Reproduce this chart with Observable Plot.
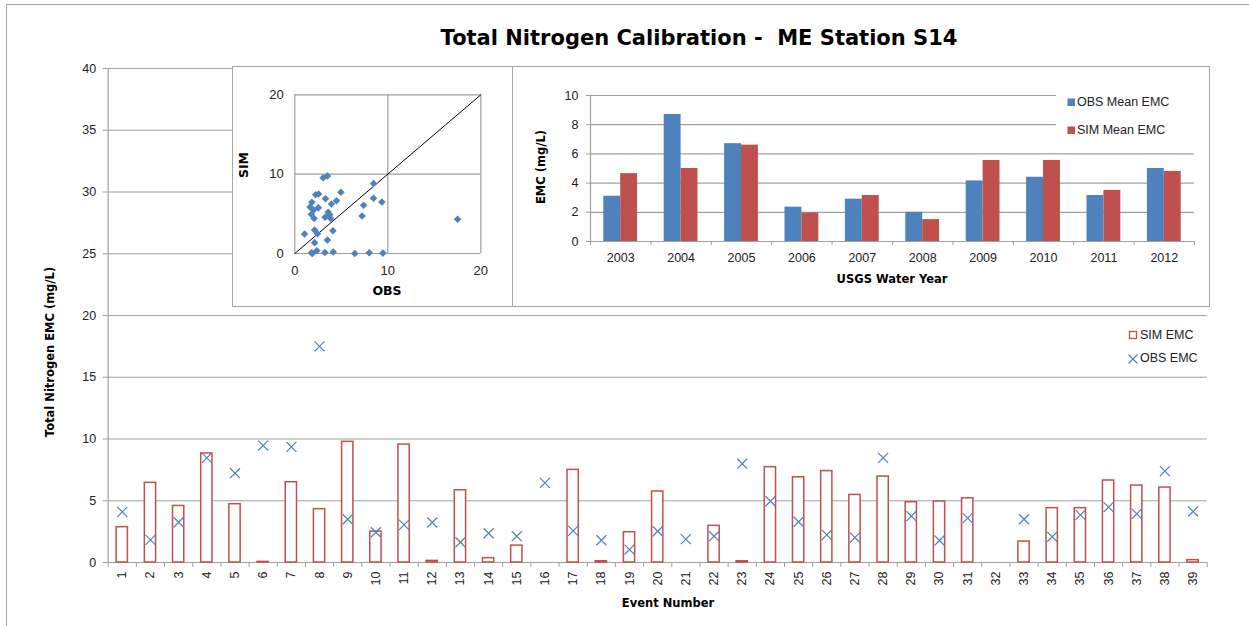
<!DOCTYPE html>
<html><head><meta charset="utf-8">
<script src="https://cdn.jsdelivr.net/npm/d3@7"></script>
<script src="https://cdn.jsdelivr.net/npm/@observablehq/plot@0.6"></script>
<style>
body{margin:0;background:#fff;font-family:"Liberation Sans",Arial,sans-serif;}
#root{position:relative;width:1249px;height:626px;overflow:hidden;background:#fff;}
.abs{position:absolute;}
.frame{position:absolute;left:6px;top:4px;width:1300px;height:700px;border:1px solid #a6a6a6;}
.title{position:absolute;left:0;width:1398px;top:26px;text-align:center;font-family:"DejaVu Sans",sans-serif;font-weight:bold;font-size:21px;color:#000;white-space:pre;}
.blab{position:absolute;font-family:"DejaVu Sans",sans-serif;font-weight:bold;font-size:11.5px;color:#000;white-space:nowrap;transform:translate(-50%,-50%);}
.rot{transform:translate(-50%,-50%) rotate(-90deg);}
.inset{position:absolute;background:#fff;border:1px solid #a6a6a6;}
.leg{position:absolute;font-size:12.5px;color:#222;white-space:nowrap;}
.sw{position:absolute;}
</style>
</head><body>
<div id="root"></div>
<script>
// ---- Data ----
const events = [1,2,3,4,5,6,7,8,9,10,11,12,13,14,15,16,17,18,19,20,21,22,23,24,25,26,27,28,29,30,31,32,33,34,35,36,37,38,39];
const simEMC = [2.86,6.45,4.58,8.83,4.72,0.05,6.5,4.32,9.77,2.5,9.55,0.13,5.85,0.35,1.37,0,7.5,0.1,2.45,5.75,0,2.97,0.1,7.72,6.9,7.4,5.47,6.96,4.88,4.94,5.2,null,1.7,4.4,4.4,6.64,6.23,6.07,0.19];
const obsEMC = [4.1,1.83,3.26,8.47,7.23,9.47,9.36,17.5,3.5,2.45,3.05,3.24,1.64,2.37,2.13,6.45,2.56,1.8,1.05,2.53,1.89,2.13,8.0,4.96,3.3,2.24,2.02,8.47,3.75,1.78,3.59,null,3.5,2.08,3.86,4.48,3.94,7.4,4.13];
const mainYTicks = [0,5,10,15,20,25,30,35,40];

const years = [2003,2004,2005,2006,2007,2008,2009,2010,2011,2012];
const obsMean = [3.1,8.7,6.7,2.35,2.9,2.0,4.15,4.4,3.15,5.0];
const simMean = [4.65,5.0,6.6,1.95,3.15,1.5,5.55,5.55,3.5,4.8];
const meanYTicks = [0,2,4,6,8,10];

const scatterTicks = [0,10,20];
const oneToOne = [0,20];

const BLUE = "#4F81BD", RED = "#C0504D", GRID = "#a0a0a0", TXT = "#222";

const root = document.getElementById("root");
function add(html){ root.insertAdjacentHTML("beforeend", html); }

// ---- Main chart ----
const rows = events.map((e,i)=>({event:e, sim:simEMC[i], obs:obsEMC[i]}));
const boundaries = events.map(e=>e-0.5).concat([events[events.length-1]+0.5]);
const halfW = 0.2;

const main = Plot.plot({
  width:1249, height:626,
  marginLeft:107.7, marginRight:42.3, marginTop:68, marginBottom:64,
  x:{domain:[0.5,39.5]}, y:{domain:[0,40]},
  style:{fontFamily:"'Liberation Sans',Arial,sans-serif", fontSize:"12.5px", color:TXT, background:"transparent"},
  marks:[
    Plot.gridY(mainYTicks.filter(t=>t>0), {stroke:GRID, strokeOpacity:1, strokeWidth:1.2}),
    Plot.ruleX([0.5], {stroke:GRID, strokeWidth:1.2}),
    Plot.ruleY([0], {stroke:GRID, strokeWidth:1.2}),
    Plot.axisY({ticks:mainYTicks, tickSize:5, tickPadding:7, stroke:GRID, fill:TXT, label:null}),
    Plot.axisX({ticks:boundaries, tickSize:5, tickFormat:()=>"", stroke:GRID, label:null}),
    Plot.axisX({ticks:events, tickSize:0, tickPadding:9, tickRotate:-90, fill:TXT, label:null}),
    Plot.rectY(rows.filter(d=>d.sim>0), {x1:d=>d.event-halfW, x2:d=>d.event+halfW, y1:0, y2:"sim", fill:"white", stroke:RED, strokeWidth:1.5}),
    Plot.dot(rows.filter(d=>d.obs!=null), {x:"event", y:"obs", symbol:"times", r:4.6, stroke:BLUE, strokeWidth:1.2})
  ]
});
main.style.position="absolute"; main.style.left="0"; main.style.top="0";
root.appendChild(main);

add('<div class="frame"></div>');
add('<div class="title">Total Nitrogen Calibration -  ME Station S14</div>');
add('<div class="blab rot" style="left:50px;top:352px">Total Nitrogen EMC (mg/L)</div>');
add('<div class="blab" style="left:668px;top:603px">Event Number</div>');
// main legend
add('<svg class="sw" style="left:1128px;top:330px" width="10" height="10"><rect x="1.5" y="1.5" width="7" height="7" fill="white" stroke="'+RED+'" stroke-width="1.3"/></svg>');
add('<div class="leg" style="left:1140px;top:328px">SIM EMC</div>');
add('<svg class="sw" style="left:1127px;top:353px" width="12" height="12"><path d="M1.5,1.5L10.5,10.5M10.5,1.5L1.5,10.5" stroke="'+BLUE+'" stroke-width="1.2"/></svg>');
add('<div class="leg" style="left:1140px;top:351px">OBS EMC</div>');

// ---- Scatter inset ----
add('<div class="inset" id="scat" style="left:232px;top:66px;width:279px;height:239px"></div>');
const pairs = rows.filter(d=>d.obs!=null && d.sim!=null);
const scat = Plot.plot({
  width:279, height:239,
  marginLeft:61.3, marginRight:31.7, marginTop:27.3, marginBottom:53,
  x:{domain:[0,20]}, y:{domain:[0,20]},
  style:{fontFamily:"'Liberation Sans',Arial,sans-serif", fontSize:"13px", color:TXT, background:"transparent"},
  marks:[
    Plot.gridX(scatterTicks, {stroke:GRID, strokeOpacity:1, strokeWidth:1.2}),
    Plot.gridY(scatterTicks, {stroke:GRID, strokeOpacity:1, strokeWidth:1.2}),
    Plot.axisX({ticks:scatterTicks, tickSize:0, tickPadding:12, fill:TXT, label:null}),
    Plot.axisY({ticks:scatterTicks, tickSize:0, tickPadding:11, fill:TXT, label:null}),
    Plot.line(oneToOne.map(v=>({v})), {x:"v", y:"v", stroke:"#000", strokeWidth:1}),
    Plot.dot(pairs, {x:"obs", y:"sim", symbol:"diamond2", r:3.4, fill:BLUE, stroke:"none"})
  ]
});
document.getElementById("scat").appendChild(scat);
add('<div class="blab rot" style="left:243px;top:165px;font-size:12.5px">SIM</div>');
add('<div class="blab" style="left:387px;top:290px;font-size:12.5px">OBS</div>');

// ---- Annual mean inset ----
add('<div class="inset" id="mean" style="left:512px;top:66px;width:696px;height:239px"></div>');
const bw = 0.28;
const meanRows = years.flatMap((y,i)=>[{year:y, series:"OBS", value:obsMean[i]},{year:y, series:"SIM", value:simMean[i]}]);
const yearBounds = years.map(y=>y-0.5).concat([years[years.length-1]+0.5]);
const meanPlot = Plot.plot({
  width:696, height:239,
  marginLeft:77, marginRight:15, marginTop:28, marginBottom:65,
  x:{domain:[2002.5,2012.5]}, y:{domain:[0,10]},
  style:{fontFamily:"'Liberation Sans',Arial,sans-serif", fontSize:"12.5px", color:TXT, background:"transparent"},
  marks:[
    Plot.gridY(meanYTicks.filter(t=>t>0), {stroke:GRID, strokeOpacity:1, strokeWidth:1.2}),
    Plot.ruleX([2002.5], {stroke:GRID, strokeWidth:1.2}),
    Plot.ruleY([0], {stroke:GRID, strokeWidth:1.2}),
    Plot.axisY({ticks:meanYTicks, tickSize:4, tickPadding:8, stroke:GRID, fill:TXT, label:null}),
    Plot.axisX({ticks:yearBounds, tickSize:4, tickFormat:()=>"", stroke:GRID, label:null}),
    Plot.axisX({ticks:years, tickSize:0, tickPadding:12, tickFormat:d=>String(d), fill:TXT, label:null}),
    Plot.rectY(meanRows, {x1:d=>d.series==="OBS"?d.year-bw:d.year, x2:d=>d.series==="OBS"?d.year:d.year+bw, y1:0, y2:"value", fill:d=>d.series==="OBS"?BLUE:RED})
  ]
});
document.getElementById("mean").appendChild(meanPlot);
add('<div class="blab rot" style="left:541px;top:167px">EMC (mg/L)</div>');
add('<div class="blab" style="left:892px;top:279px">USGS Water Year</div>');
// mean legend
add('<div class="abs" style="left:1056px;top:84px;width:150px;height:58px;background:#fff"></div>');
add('<svg class="sw" style="left:1067px;top:98px" width="9" height="9"><rect x="0.5" y="0.5" width="7.5" height="7.5" fill="'+BLUE+'"/></svg>');
add('<div class="leg" style="left:1077px;top:95px">OBS Mean EMC</div>');
add('<svg class="sw" style="left:1067px;top:126px" width="9" height="9"><rect x="0.5" y="0.5" width="7.5" height="7.5" fill="'+RED+'"/></svg>');
add('<div class="leg" style="left:1077px;top:123px">SIM Mean EMC</div>');
</script>
</body></html>
